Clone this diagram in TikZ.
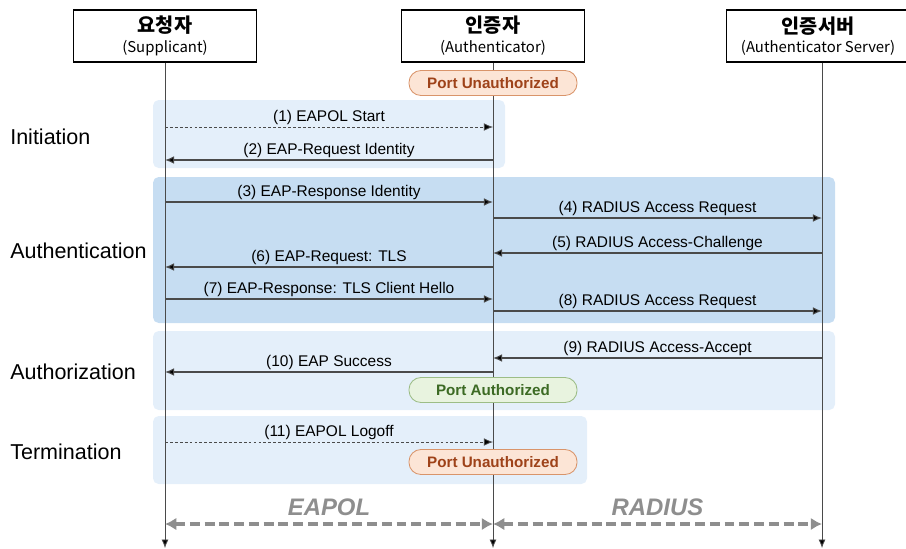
\documentclass[tikz,border=0pt]{standalone}
\usepackage{fontspec}
\setmainfont{Liberation Sans}
\newfontfamily\kofont{Noto Sans CJK KR}
\usetikzlibrary{arrows.meta,calc}

\definecolor{bandlight}{HTML}{E4EFFA}
\definecolor{banddark}{HTML}{C6DDF2}
\definecolor{lifegray}{HTML}{4A4A4A}
\definecolor{unauthfill}{HTML}{FCE5D6}
\definecolor{unauthline}{HTML}{D9946A}
\definecolor{unauthtext}{HTML}{9E4219}
\definecolor{authfill}{HTML}{E8F3DF}
\definecolor{authline}{HTML}{9CBD86}
\definecolor{authtext}{HTML}{3C6A24}
\definecolor{protogray}{HTML}{8E8E8E}

\begin{document}
\begin{tikzpicture}[x=0.025cm,y=-0.025cm,
  actor/.style={draw=black,line width=0.9pt,fill=white,minimum width=4.575cm,minimum height=1.3cm,align=center,inner sep=0pt},
  life/.style={draw=lifegray,line width=0.6pt,-{Latex[length=6pt,width=5pt,fill=black]}},
  msg/.style={draw=lifegray,line width=0.8pt,-{Latex[length=6.5pt,width=5.5pt,fill=black]}},
  msgdash/.style={draw=lifegray,line width=0.6pt,dash pattern=on 2pt off 1.5pt,-{Latex[length=6.5pt,width=5.5pt,fill=black]}},
  lbl/.style={midway,above,inner sep=1.5pt,font=\fontsize{11}{13}\selectfont},
  phase/.style={anchor=west,inner sep=0pt,font=\fontsize{15.3}{18}\selectfont},
  pillred/.style={draw=unauthline,fill=unauthfill,text=unauthtext,line width=0.6pt,rounded corners=0.3cm,minimum width=4.2cm,minimum height=0.625cm,font=\bfseries\fontsize{10.8}{13}\selectfont},
  pillgreen/.style={pillred,draw=authline,fill=authfill,text=authtext},
  proto/.style={draw=protogray,line width=3pt,dash pattern=on 7pt off 3.5pt,{Latex[length=8pt,width=9pt]}-{Latex[length=8pt,width=9pt]}},
  protolbl/.style={text=protogray,font=\bfseries\itshape\fontsize{17}{20}\selectfont}]

\useasboundingbox (0,0) rectangle (906,548);

% phase bands
\fill[bandlight,rounded corners=4pt] (153,100) rectangle (505,168);
\fill[banddark,rounded corners=4pt] (153,177) rectangle (835,323);
\fill[bandlight,rounded corners=4pt] (153,331) rectangle (835,410);
\fill[bandlight,rounded corners=4pt] (153,416) rectangle (587,484);

% actors
\node[actor] (sup) at (165,36) {{\kofont\bfseries\fontsize{14}{17}\selectfont 요청자}\\[2pt]{\kofont\fontsize{10.6}{12}\selectfont (Supplicant)}};
\node[actor] (auth) at (493,36) {{\kofont\bfseries\fontsize{14}{17}\selectfont 인증자}\\[2pt]{\kofont\fontsize{10.6}{12}\selectfont (Authenticator)}};
\node[actor] (srv) at (818,36) {{\kofont\bfseries\fontsize{14}{17}\selectfont 인증서버}\\[2pt]{\kofont\fontsize{10.6}{12}\selectfont (Authenticator Server)}};

\coordinate (supend) at (165,548);
\coordinate (authend) at (493,548);
\coordinate (srvend) at (822,548);

\draw[life] (sup.south) -- (supend);
\draw[life] (auth.south) -- (authend);
\draw[life] (srvend |- srv.south) -- (srvend);

% phase names
\node[phase] (initiation) at (10,137) {Initiation};
\node[phase] (authentication) at (10,251) {Authentication};
\node[phase] (authorization) at (10,372) {Authorization};
\node[phase] (termination) at (10,452) {Termination};

% port states
\node[pillred] (unauth1) at (493,83) {Port Unauthorized};
\node[pillgreen] (authok) at (493,390) {Port Authorized};
\node[pillred] (unauth2) at (493,462) {Port Unauthorized};

% messages
\draw[msgdash] (supend |- 0,127) -- (authend |- 0,127) node[lbl] {(1) EAPOL Start};
\draw[msg] (authend |- 0,160) -- (supend |- 0,160) node[lbl] {(2) EAP-Request Identity};
\draw[msg] (supend |- 0,202) -- (authend |- 0,202) node[lbl] {(3) EAP-Response Identity};
\draw[msg] (authend |- 0,218) -- (srvend |- 0,218) node[lbl] {(4) RADIUS Access Request};
\draw[msg] (srvend |- 0,253) -- (authend |- 0,253) node[lbl] {(5) RADIUS Access-Challenge};
\draw[msg] (authend |- 0,267) -- (supend |- 0,267) node[lbl] {(6) EAP-Request: TLS};
\draw[msg] (supend |- 0,299) -- (authend |- 0,299) node[lbl] {(7) EAP-Response: TLS Client Hello};
\draw[msg] (authend |- 0,311) -- (srvend |- 0,311) node[lbl] {(8) RADIUS Access Request};
\draw[msg] (srvend |- 0,358) -- (authend |- 0,358) node[lbl] {(9) RADIUS Access-Accept};
\draw[msg] (authend |- 0,372) -- (supend |- 0,372) node[lbl] {(10) EAP Success};
\draw[msgdash] (supend |- 0,442) -- (authend |- 0,442) node[lbl] {(11) EAPOL Logoff};

% protocols
\draw[proto] (supend |- 0,524) -- (authend |- 0,524) node[midway,above=1pt,protolbl] (eapol) {EAPOL};
\draw[proto] (authend |- 0,524) -- (srvend |- 0,524) node[midway,above=1pt,protolbl] (radius) {RADIUS};

\end{tikzpicture}
\end{document}
